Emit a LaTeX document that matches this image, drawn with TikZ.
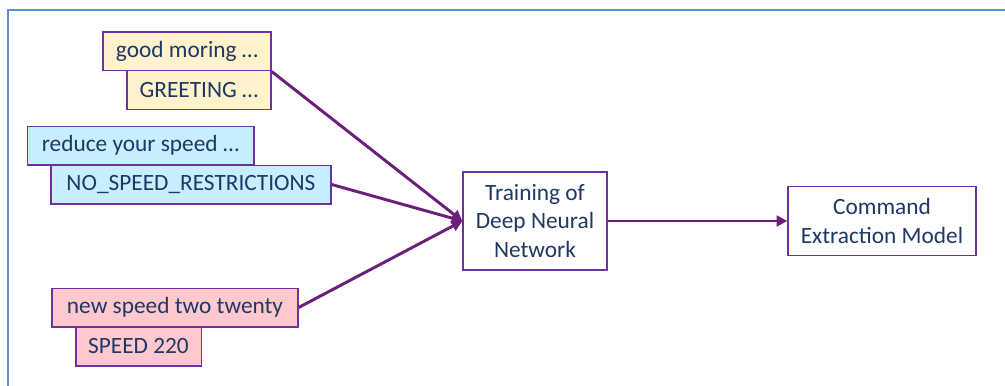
\documentclass[tikz,border=0pt]{standalone}
\usepackage{fontspec}
\setmainfont{Carlito}
\usepackage{tikz}
\usetikzlibrary{arrows.meta,positioning}
\definecolor{cmnavy}{HTML}{1F3864}
\definecolor{cmpurple}{HTML}{7030A0}
\definecolor{cmarrow}{HTML}{6A1F7A}
\definecolor{cmframe}{HTML}{5B8ED6}
\definecolor{cmyellow}{HTML}{FFF2CC}
\definecolor{cmblue}{HTML}{C6EEFE}
\definecolor{cmpink}{HTML}{FFC7CE}
\tikzset{
  txt/.style={draw=cmpurple,line width=1pt,inner sep=0pt,text=cmnavy,
              font=\fontsize{17.5}{21.5}\selectfont,align=center,minimum height=29pt},
  ylw/.style={txt,fill=cmyellow},
  blu/.style={txt,fill=cmblue},
  pnk/.style={txt,fill=cmpink},
  stage/.style={txt,fill=white},
  ar/.style={-{Triangle[length=8pt,width=8pt]},line width=2.2pt,cmarrow},
}
\begin{document}
\begin{tikzpicture}[x=0.75pt,y=-0.75pt]
    \useasboundingbox (0,0) rectangle (1005,385);
    \draw[cmframe,line width=1.6pt] (8,400)--(8,10)--(1010,10);
    % sample sentences with their labels
    \node[ylw,minimum width=126pt] (gm) at (187,51.5) {good moring \dots};
    \node[ylw,minimum width=108pt] (gr) at (199,90) {GREETING \dots};
    \node[blu,minimum width=170pt] (rs) at (140.5,145.5) {reduce your speed \dots};
    \node[blu,minimum width=210pt] (ns) at (191,184.5) {NO\_SPEED\_RESTRICTIONS};
    \node[pnk,minimum width=184.5pt] (nt) at (175,307.5) {new speed two twenty};
    \node[pnk,minimum width=94pt] (sp) at (138.5,346.5) {SPEED 220};
    % training and result
    \node[stage,minimum width=108pt,minimum height=73.5pt] (dnn) at (535,221) {Training of\\Deep Neural\\Network};
    \node[stage,minimum width=141pt,minimum height=52pt] (cem) at (882,221) {Command\\Extraction Model};
    \draw[ar](gm.south east)--(dnn.west);
    \draw[ar](ns.east)--(dnn.west);
    \draw[ar](nt.east)--(dnn.west);
    \draw[ar](dnn)--(cem);
\end{tikzpicture}
\end{document}
